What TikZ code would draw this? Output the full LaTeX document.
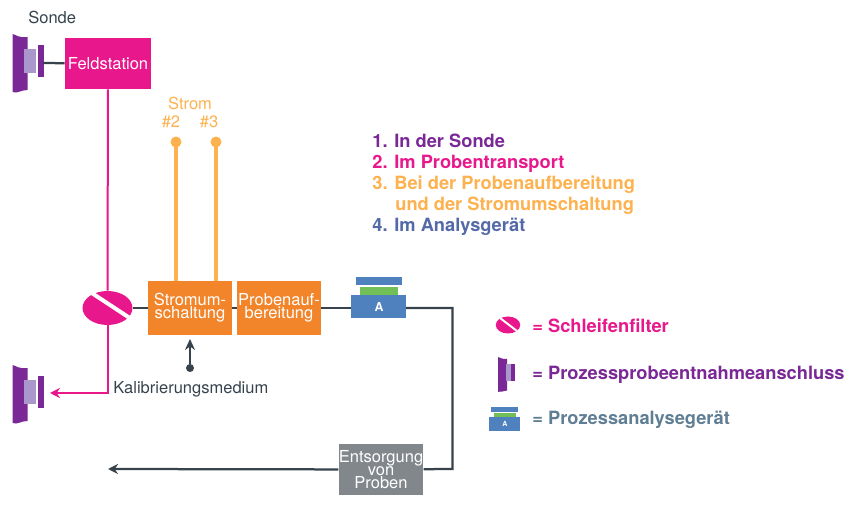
\documentclass[tikz,border=0pt]{standalone}
\usepackage{fontspec}
\setmainfont{TeX Gyre Heros}
\usetikzlibrary{shapes.geometric}
\usetikzlibrary{arrows.meta}
\definecolor{pink}{RGB}{232,23,140}
\definecolor{purp}{RGB}{122,40,150}
\definecolor{lilac}{RGB}{170,152,204}
\definecolor{orange}{RGB}{242,132,42}
\definecolor{lightorange}{RGB}{253,177,79}
\definecolor{darkline}{RGB}{54,67,77}
\definecolor{anablue}{RGB}{79,129,191}
\definecolor{anagreen}{RGB}{114,191,88}
\definecolor{listblue}{RGB}{84,105,168}
\definecolor{slate}{RGB}{95,126,148}
\definecolor{boxgrey}{RGB}{130,135,140}
\newcommand{\sondebody}{\fill[purp] (0,0) .. controls (4,1) and (6,4) .. (15,3) -- (15,56) .. controls (8,56) and (5,60) .. (0,58) -- cycle;}
\newcommand{\sondesym}[2]{
\begin{scope}[shift={(#1,#2)}]
\sondebody
\fill[lilac] (11,15) rectangle (23,39);
\fill[purp] (25,11.5) rectangle (31,43);
\end{scope}}
\newcommand{\anasym}[3]{
\begin{scope}[shift={(#1,#2)},scale=#3]
\fill[anablue] (4.5,0) rectangle (51,8);
\fill[anagreen] (9,10) rectangle (47,18);
\fill[anablue] (0,18) rectangle (55,41);
\end{scope}}
\tikzset{
box/.style={fill=#1,text=white,inner sep=0pt,align=center,font=\fontsize{9.4}{7.5}\selectfont},
lab/.style={text=#1,inner sep=0pt,font=\fontsize{9.4}{10}\selectfont},
item/.style={text=#1,inner sep=0pt,anchor=base west,font=\fontsize{10.4}{10}\selectfont\bfseries},
pipe/.style={draw=darkline,line width=0.45mm},
flow/.style={draw=pink,line width=0.4mm},
stream/.style={draw=lightorange,line width=0.8mm},
}
\begin{document}
\begin{tikzpicture}[x=0.02cm,y=-0.02cm]
\useasboundingbox (0,0) rectangle (860,506);
\sondesym{12.5}{34}
\sondesym{12.5}{365}
\coordinate (sondeout) at (43,63);
\coordinate (sondein) at (50,393);
\coordinate (abfall) at (108,469);
\coordinate (knick) at (452.5,308);
\coordinate (knickb) at (452.5,469);
\draw (28,17) node[lab=darkline,anchor=west] (sonde) {Sonde};
\draw (108,63.7) node[box=pink,minimum width=1.72cm,minimum height=1.01cm] (feld) {Feldstation};
\draw (107.5,308) node[ellipse,fill=pink,minimum width=1cm,minimum height=0.68cm,inner sep=0pt] (filter) {};
\draw[white,line width=0.8mm] (91,292.5) -- (129,317.5);
\draw (190,308) node[box=orange,minimum width=1.68cm,minimum height=1.08cm] (strom) {Stromum-\\schaltung};
\draw (279,308) node[box=orange,minimum width=1.68cm,minimum height=1.08cm] (aufb) {Probenauf-\\bereitung};
\anasym{351}{277.5}{1}
\coordinate (anal) at (351,308);
\coordinate (anar) at (406,308);
\draw (379,307) node[text=white,inner sep=0pt,font=\fontsize{7}{8}\selectfont\bfseries] (anaA) {A};
\draw (381,469.5) node[box=boxgrey,minimum width=1.67cm,minimum height=1.04cm] (entsorg) {Entsorgung\\von\\Proben};
\draw[pipe] (sondeout) -- (feld);
\draw[pipe] (filter) -- (strom);
\draw[pipe] (strom) -- (aufb);
\draw[pipe] (aufb) -- (anal);
\draw[pipe] (anar) -- (knick) -- (knickb) -- (entsorg);
\draw[pipe,-{Stealth[length=2mm,width=2mm]}] (entsorg) -- (abfall);
\draw[flow] (feld) -- (filter);
\draw[flow,-{Stealth[length=2mm,width=2mm]}] (filter.south) |- (sondein);
\draw (176,142) node[circle,fill=lightorange,minimum size=0.22cm,inner sep=0pt] (s2) {};
\draw (216,142) node[circle,fill=lightorange,minimum size=0.22cm,inner sep=0pt] (s3) {};
\draw[stream] (s2.center) -- (176,281);
\draw[stream] (s3.center) -- (216,281);
\draw (190,103.5) node[lab=lightorange] (stromlab) {Strom};
\draw (171,122) node[lab=lightorange] (nr2) {\#2};
\draw (209,122) node[lab=lightorange] (nr3) {\#3};
\draw (190,368) node[circle,fill=darkline,minimum size=0.16cm,inner sep=0pt] (kal) {};
\coordinate (kalend) at (190,339);
\draw[pipe,-{Stealth[length=2.2mm,width=2mm]}] (kal) -- (kalend);
\draw (113,389.5) node[lab=darkline,anchor=west] (kallab) {Kalibrierungsmedium};
\draw (372,148) node[item=purp] (l1) {1. In der Sonde};
\draw (372,169) node[item=pink] (l2) {2. Im Probentransport};
\draw (372,190) node[item=lightorange] (l3) {3. Bei der Probenaufbereitung};
\draw (395,211) node[item=lightorange] (l3b) {und der Stromumschaltung};
\draw (372,232) node[item=listblue] (l4) {4. Im Analysgerät};
% legende
\draw (508,325) node[ellipse,fill=pink,minimum width=0.49cm,minimum height=0.34cm,inner sep=0pt] (legfilter) {};
\draw[white,line width=0.4mm] (500,318) -- (517,331);
\begin{scope}[shift={(498,357)},scale=0.6]
\sondebody
\end{scope}
\fill[lilac] (506,364) rectangle (510.5,381);
\fill[purp] (510.5,364) rectangle (515,381);
\anasym{488.5}{407}{0.58}
\draw (505,424) node[text=white,inner sep=0pt,font=\fontsize{4}{5}\selectfont\bfseries] (legA) {A};
\draw (532,333) node[item=pink] (t1) {= Schleifenfilter};
\draw (532,380) node[item=purp] (t2) {= Prozessprobeentnahmeanschluss};
\draw (532,425) node[item=slate] (t3) {= Prozessanalysegerät};
\end{tikzpicture}
\end{document}
